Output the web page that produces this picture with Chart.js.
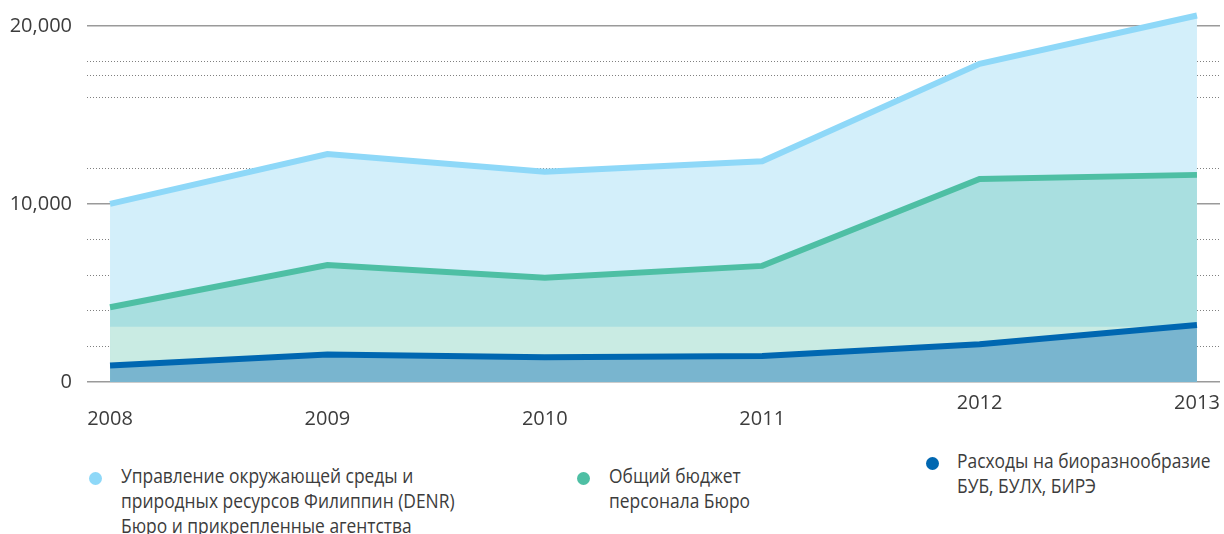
<!DOCTYPE html>
<html>
<head>
<meta charset="utf-8">
<script src="https://cdn.jsdelivr.net/npm/chart.js@4/dist/chart.umd.min.js"></script>
<style>
  body { margin: 0; background: #fff; }
  #wrap { position: relative; width: 1224px; height: 534px; overflow: hidden; font-family: "Open Sans", sans-serif; color: #3c3c3c; }
  #chart { position: absolute; left: 0; top: 0; }
  .item { position: absolute; font-size: 20px; line-height: 25px; white-space: nowrap; transform: scaleX(0.87); transform-origin: left top; }
  .dot { position: absolute; width: 13px; height: 13px; border-radius: 50%; }
</style>
</head>
<body>
<div id="wrap">
  <canvas id="chart" width="1224" height="432"></canvas>

  <span class="dot" style="left:88.5px; top:471.5px; background:#8ed8f8"></span>
  <div class="item" style="left:121px; top:463px">Управление окружающей среды и<br>природных ресурсов Филиппин (DENR)<br>Бюро и прикрепленные агентства</div>

  <span class="dot" style="left:576.5px; top:471.5px; background:#4ebfa4"></span>
  <div class="item" style="left:609px; top:463px">Общий бюджет<br>персонала Бюро</div>

  <span class="dot" style="left:925.5px; top:456.5px; background:#0067b1"></span>
  <div class="item" style="left:957px; top:448px">Расходы на биоразнообразие<br>БУБ, БУЛХ, БИРЭ</div>
</div>

<script>
// values
const years = [2008, 2009, 2010, 2011, 2012, 2013]
const denrBudget = [10000, 12800, 11800, 12400, 17870, 20580]
const bureauBudget = [4200, 6570, 5860, 6520, 11400, 11630]
const biodiversitySpend = [920, 1550, 1390, 1460, 2120, 3200]
const paleBand = [3100, 3100, 3100, 3100, 3100, 3100]

const labelTicks = [0, 10000, 20000]
const dottedTicks = [2000, 4000, 6000, 8000, 12000, 16000, 17200, 18000]

const pts = arr => years.map((y, i) => ({ x: y, y: arr[i] }))

const tickFont = { family: '"Open Sans", sans-serif', size: 20 }

new Chart(document.getElementById('chart'), {
  type: 'line',
  data: {
    datasets: [
      {
        data: pts(denrBudget),
        borderColor: '#8ed8f8',
        backgroundColor: '#d3effa',
        borderWidth: 6,
        fill: 'origin',
        order: 4
      },
      {
        data: pts(bureauBudget),
        borderColor: '#4ebfa4',
        backgroundColor: '#a9dfe0',
        borderWidth: 6,
        fill: 'origin',
        order: 3
      },
      {
        data: pts(paleBand),
        borderWidth: 0,
        borderColor: 'rgba(0,0,0,0)',
        backgroundColor: '#c9ebe3',
        fill: 'origin',
        order: 2
      },
      {
        data: pts(biodiversitySpend),
        borderColor: '#0067b1',
        backgroundColor: '#79b5cf',
        borderWidth: 6,
        fill: 'origin',
        order: 1
      }
    ]
  },
  options: {
    responsive: false,
    animation: false,
    layout: { padding: { top: 8, right: 4, left: 0, bottom: 0 } },
    elements: {
      point: { radius: 0 },
      line: { tension: 0, borderCapStyle: 'butt' }
    },
    plugins: {
      legend: { display: false },
      tooltip: { enabled: false }
    },
    scales: {
      x: {
        type: 'linear',
        min: 2007.894,
        max: 2013.106,
        afterBuildTicks: s => { s.ticks = years.map(v => ({ value: v })) },
        afterFit: s => { s.height = 50; s.paddingLeft = 0; s.paddingRight = 0 },
        grid: { display: false, drawTicks: false },
        border: { display: false },
        ticks: {
          padding: 13,
          color: '#3c3c3c',
          maxRotation: 0,
          font: { ...tickFont, lineHeight: 0.8 },
          callback: v => v >= 2012 ? String(v) : ['', String(v)]
        }
      },
      y: {
        min: 0,
        max: 21000,
        z: 1,
        afterBuildTicks: s => { s.ticks = labelTicks.map(v => ({ value: v })) },
        afterFit: s => { s.width = 87; s.paddingTop = 0; s.paddingBottom = 0 },
        grid: { color: '#9a9a9a', lineWidth: 1.5, drawTicks: false },
        border: { display: false },
        ticks: {
          padding: 15,
          color: '#3c3c3c',
          font: tickFont,
          callback: v => v.toLocaleString('en-US')
        }
      },
      yDots: {
        position: 'left',
        min: 0,
        max: 21000,
        z: 1,
        afterBuildTicks: s => { s.ticks = dottedTicks.map(v => ({ value: v })) },
        afterFit: s => { s.width = 0; s.paddingTop = 0; s.paddingBottom = 0 },
        grid: { color: '#808080', lineWidth: 1, drawTicks: false },
        border: { display: false, dash: [1, 2] },
        ticks: { display: false }
      }
    }
  }
})
</script>
</body>
</html>
